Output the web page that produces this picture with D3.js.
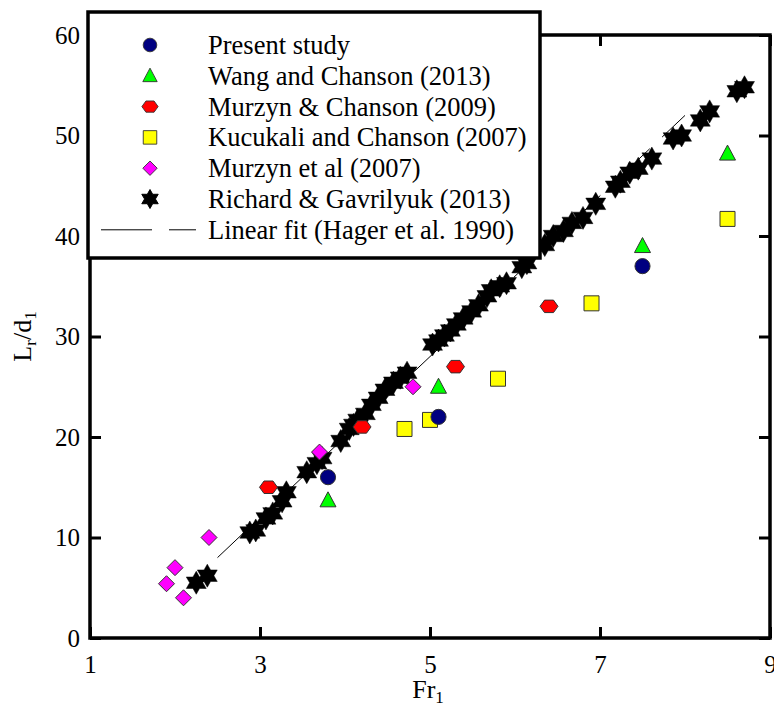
<!DOCTYPE html>
<html>
<head>
<meta charset="utf-8">
<script src="https://cdn.jsdelivr.net/npm/d3@7"></script>
<style>
  body { margin:0; background:#fff; }
</style>
</head>
<body>
<svg id="chart" width="774" height="713"></svg>
<script>
// data (Fr1, Lr/d1)
const presentStudy = [[3.8,16.0],[5.1,22.0],[7.5,37.0]];
const wangChanson = [[3.8,13.7],[5.1,25.0],[7.5,39.0],[8.5,48.2]];
const murzynChanson = [[3.1,15.0],[4.2,21.0],[5.3,27.0],[6.4,33.0]];
const kucukali = [[4.7,20.8],[5.0,21.7],[5.8,25.8],[6.9,33.3],[8.5,41.7]];
const murzyn2007 = [[1.9,5.4],[2.0,7.0],[2.1,4.0],[2.4,10.0],[3.7,18.5],[4.8,25.0]];
const richard = [
  [2.25,5.5],[2.38,6.2],[2.88,10.5],[2.95,10.7],[3.07,11.9],[3.15,12.4],[3.26,13.6],[3.31,14.5],
  [3.55,16.5],[3.67,17.4],[3.73,17.9],[3.95,19.6],[4.05,20.8],[4.1,21.2],[4.15,21.7],[4.24,22.3],
  [4.31,23.2],[4.39,23.9],[4.47,24.7],[4.57,25.4],[4.65,25.9],[4.73,26.4],[5.03,29.2],[5.1,29.6],
  [5.17,30.1],[5.24,30.6],[5.31,31.2],[5.39,31.8],[5.49,32.5],[5.57,33.1],[5.67,34.0],[5.72,34.6],
  [5.82,35.0],[5.9,35.3],[6.08,36.9],[6.14,37.3],[6.35,39.1],[6.45,40.0],[6.57,40.5],[6.67,41.3],
  [6.8,41.8],[6.95,43.2],[7.18,44.9],[7.24,45.4],[7.35,46.3],[7.45,46.7],[7.61,47.7],[7.86,49.7],
  [7.96,50.0],[8.18,51.5],[8.29,52.4],[8.61,54.4],[8.7,54.8]
];
// Hager et al. (1990): Lr/d1 = 8 (Fr1 - 1.5), 2.5 < Fr1 < 8
const fitRange = [2.5, 8];
const fitLine = fitRange.map(f => [f, 8*(f-1.5)]);

const xTicks = [1,3,5,7,9];
const yTicks = [0,10,20,30,40,50,60];

const FONT = '"Liberation Serif", "Times New Roman", Times, serif';
const svg = d3.select('#chart');
const m = {left:90, right:770, top:35, bottom:638};

const x = d3.scaleLinear().domain([1,9]).range([m.left, m.right]);
const y = d3.scaleLinear().domain([0,60]).range([m.bottom, m.top]);

// marker shapes
function polyPath(pts){ return 'M' + pts.map(p=>p.join(',')).join('L') + 'Z'; }
function starPath(ro, ri, n){
  const pts = [];
  for (let i=0;i<2*n;i++){
    const a = -Math.PI/2 + i*Math.PI/n, r = i%2 ? ri : ro;
    pts.push([r*Math.cos(a), r*Math.sin(a)]);
  }
  return polyPath(pts);
}
function hexPath(r){
  const pts = d3.range(6).map(i => [r*Math.cos(i*Math.PI/3), 0.8*r*Math.sin(i*Math.PI/3)]);
  return polyPath(pts);
}
const shapes = {
  circle: d3.symbol(d3.symbolCircle, 180)(),
  triangle: polyPath([[0,-8.5],[8,6.5],[-8,6.5]]),
  hexagon: hexPath(9),
  square: polyPath([[-7.5,-7.5],[7.5,-7.5],[7.5,7.5],[-7.5,7.5]]),
  diamond: polyPath([[0,-8],[8,0],[0,8],[-8,0]]),
  star: starPath(11.5, 6.6, 6)
};

const series = [
  {name:'Present study', data:presentStudy, shape:'circle', fill:'#000080'},
  {name:'Wang and Chanson (2013)', data:wangChanson, shape:'triangle', fill:'#00ff00'},
  {name:'Murzyn & Chanson (2009)', data:murzynChanson, shape:'hexagon', fill:'#ff0000'},
  {name:'Kucukali and Chanson (2007)', data:kucukali, shape:'square', fill:'#ffff00'},
  {name:'Murzyn et al (2007)', data:murzyn2007, shape:'diamond', fill:'#ff00ff'},
  {name:'Richard & Gavrilyuk (2013)', data:richard, shape:'star', fill:'#000000'}
];

// fit line
const line = d3.line().x(d=>x(d[0])).y(d=>y(d[1]));
svg.append('path').datum(fitLine)
  .attr('d', line).attr('fill','none').attr('stroke','#000').attr('stroke-width',1)
  .attr('stroke-dasharray','51,17');

// markers, stars drawn last
const order = [5,4,3,2,1,0];
order.forEach(i => {
  const s = series[i];
  svg.append('g').selectAll('path').data(s.data).join('path')
    .attr('d', shapes[s.shape])
    .attr('transform', d => `translate(${x(d[0])},${y(d[1])})`)
    .attr('fill', s.fill)
    .attr('stroke', s.shape==='star' ? '#000' : '#333')
    .attr('stroke-width', s.shape==='star' ? 0.5 : 1);
});

// axes with inward ticks
const axB = svg.append('g').attr('transform',`translate(0,${m.bottom})`)
  .call(d3.axisBottom(x).tickValues(xTicks).tickFormat(d3.format('d')).tickSize(-11).tickPadding(17));
const axL = svg.append('g').attr('transform',`translate(${m.left},0)`)
  .call(d3.axisLeft(y).tickValues(yTicks).tickFormat(d3.format('d')).tickSize(-11).tickPadding(10));
const axT = svg.append('g').attr('transform',`translate(0,${m.top})`)
  .call(d3.axisTop(x).tickValues(xTicks).tickSize(-11).tickFormat(''));
const axR = svg.append('g').attr('transform',`translate(${m.right},0)`)
  .call(d3.axisRight(y).tickValues(yTicks).tickSize(-11).tickFormat(''));
[axB, axL, axT, axR].forEach(a => {
  a.select('.domain').remove();
  a.selectAll('line').attr('stroke','#000').attr('stroke-width',3);
  a.selectAll('text').attr('font-size', 25).attr('fill','#000');
});

// frame
svg.append('rect')
  .attr('x', m.left).attr('y', m.top)
  .attr('width', m.right-m.left).attr('height', m.bottom-m.top)
  .attr('fill','none').attr('stroke','#000').attr('stroke-width',3.5);

// axis titles
const xt = svg.append('text').attr('x', (m.left+m.right)/2 - 2).attr('y', 698)
  .attr('text-anchor','middle').attr('font-size',26);
xt.append('tspan').text('Fr');
xt.append('tspan').attr('dy',5).attr('font-size',17).text('1');

const yt = svg.append('text')
  .attr('transform', `translate(31,${(m.top+m.bottom)/2}) rotate(-90)`)
  .attr('text-anchor','middle').attr('font-size',26);
yt.append('tspan').text('L');
yt.append('tspan').attr('dy',5).attr('font-size',17).text('r');
yt.append('tspan').attr('dy',-5).text('/d');
yt.append('tspan').attr('dy',5).attr('font-size',17).text('1');

// legend
const lg = svg.append('g');
lg.append('rect').attr('x',88).attr('y',12).attr('width',452).attr('height',246)
  .attr('fill','#fff').attr('stroke','#000').attr('stroke-width',3.5);
const rowY = i => 45 + i*30.8;
series.forEach((s,i) => {
  lg.append('path').attr('d', s.shape==='star' ? starPath(9.5,5.4,6) : shapes[s.shape])
    .attr('transform',`translate(150,${rowY(i)}) scale(${s.shape==='star'?1:0.9})`)
    .attr('fill', s.fill).attr('stroke', s.shape==='star' ? '#000' : '#333').attr('stroke-width',1);
  lg.append('text').attr('x',208).attr('y',rowY(i)+9).attr('font-size',26.5).text(s.name);
});
lg.append('line').attr('x1',101).attr('x2',196).attr('y1',rowY(6)).attr('y2',rowY(6))
  .attr('stroke','#000').attr('stroke-width',1).attr('stroke-dasharray','51,17');
lg.append('text').attr('x',208).attr('y',rowY(6)+9).attr('font-size',26.5).text('Linear fit (Hager et al. 1990)');

// apply the serif face everywhere (axis groups set sans-serif on their own)
svg.selectAll('g').attr('font-family', FONT);
svg.selectAll('text').attr('font-family', FONT).style('font-family', FONT);
</script>
</body>
</html>
